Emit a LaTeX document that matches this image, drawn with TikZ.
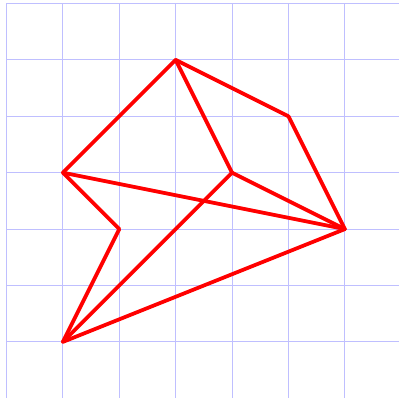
\documentclass[tikz,border=0pt]{standalone}
\begin{document}
\begin{tikzpicture}[x=1cm,y=1cm,
  gridline/.style={draw=blue!25,line width=0.5pt},
  edge/.style={draw=red,line width=1.9pt,line join=round,line cap=round}]
\useasboundingbox (-0.115,0.062) rectangle (6.96,-7.01);
\clip (-0.115,0.062) rectangle (6.96,-7.01);
\draw[gridline] (0,0) grid (6.99,-6.99);
\coordinate (A) at (3,-1);
\coordinate (B) at (5,-2);
\coordinate (C) at (6,-4);
\coordinate (D) at (4,-3);
\coordinate (E) at (1,-3);
\coordinate (F) at (2,-4);
\coordinate (G) at (1,-6);
\draw[edge] (E) -- (A);
\draw[edge] (A) -- (B);
\draw[edge] (B) -- (C);
\draw[edge] (A) -- (D);
\draw[edge] (D) -- (C);
\draw[edge] (E) -- (C);
\draw[edge] (E) -- (F);
\draw[edge] (F) -- (G);
\draw[edge] (G) -- (D);
\draw[edge] (G) -- (C);
\end{tikzpicture}
\end{document}
